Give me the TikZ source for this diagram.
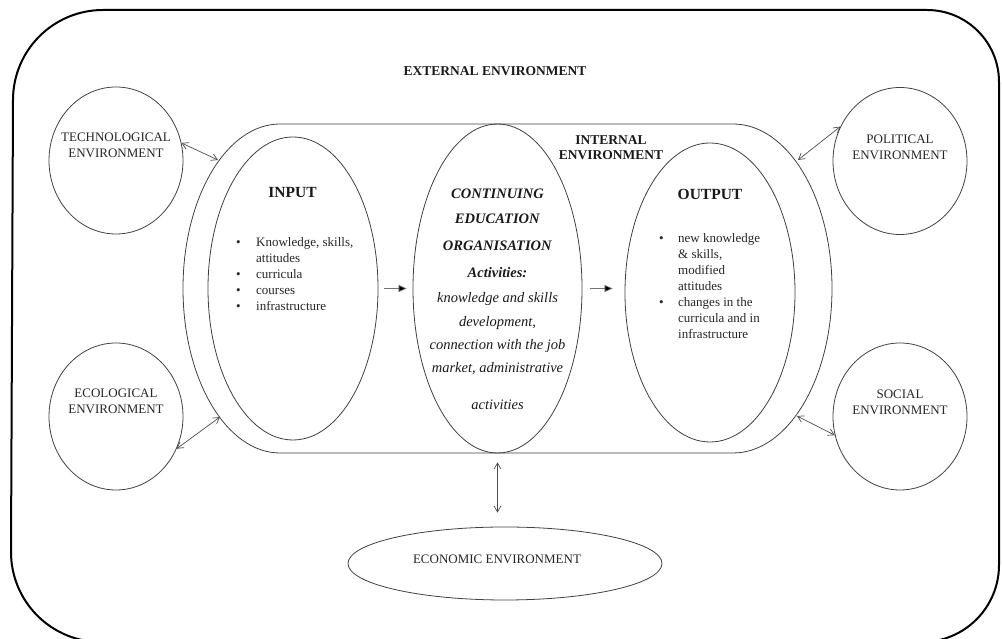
\documentclass[tikz,border=0pt]{standalone}
\usepackage{fontspec}
\setmainfont{Liberation Serif}
\usetikzlibrary{shapes.geometric,arrows.meta}
\begin{document}
\begin{tikzpicture}[x=1pt,y=1pt,
  ell/.style={draw=black!75, line width=0.8pt, ellipse, inner sep=0pt},
  lbl/.style={font=\fontsize{13}{16}\selectfont, align=center, inner sep=0pt, text=black!85},
  boldlbl/.style={font=\fontsize{13.5}{15.5}\selectfont\bfseries, align=center, inner sep=0pt, text=black!90},
  head/.style={font=\fontsize{15.5}{18}\selectfont\bfseries, inner sep=0pt, text=black!90},
  listtxt/.style={anchor=north west, inner sep=0pt, font=\fontsize{13}{16}\selectfont, text=black!85},
  dbl/.style={draw=black!70, line width=0.7pt, {Straight Barb[length=6pt,width=7pt]}-{Straight Barb[length=6pt,width=7pt]}},
  fwd/.style={draw=black!55, line width=0.7pt, -{Triangle[length=8pt,width=7pt,fill=black]}}
]
\useasboundingbox (0,0) rectangle (1002,639);
\begin{scope}
\clip (0,0) rectangle (1002,639);
\draw[line width=2pt] (13,539) arc[start angle=180,end angle=90,radius=90] -- (927,629)
  arc[start angle=90,end angle=0,radius=72] -- (999,74)
  arc[start angle=0,end angle=-90,radius=77] -- (101,-3)
  arc[start angle=270,end angle=180,radius=90] -- cycle;
\end{scope}
% internal environment
\draw[draw=black!75,line width=0.8pt] (280,515) -- (733,515)
  arc[start angle=90,end angle=-90,x radius=99,y radius=164.5] -- (280,186)
  arc[start angle=270,end angle=90,x radius=97,y radius=164.5] -- cycle;
\coordinate (t1) at (218,479);
\coordinate (e1) at (220,222);
\coordinate (p1) at (798,479);
\coordinate (s1) at (797,223);
% ellipses
\node[ell, minimum width=134pt, minimum height=147pt] (tech) at (116,478.5) {};
\node[ell, minimum width=134pt, minimum height=147pt] (eco) at (116,222.5) {};
\node[ell, minimum width=134pt, minimum height=147pt] (pol) at (900,478) {};
\node[ell, minimum width=134pt, minimum height=147pt] (soc) at (900,222.5) {};
\node[ell, minimum width=314pt, minimum height=73pt] (econ) at (505,75.5) {};
\node[ell, minimum width=170pt, minimum height=303pt] (input) at (293,350.5) {};
\node[ell, minimum width=169pt, minimum height=329pt] (ceo) at (497.5,350.5) {};
\node[ell, minimum width=170pt, minimum height=299pt] (output) at (710,346.5) {};
% labels
\node[lbl] (techl) at (116,493.5) {TECHNOLOGICAL\\ENVIRONMENT};
\node[lbl] (ecol) at (116,237.5) {ECOLOGICAL\\ENVIRONMENT};
\node[lbl] (poll) at (900,491.5) {POLITICAL\\ENVIRONMENT};
\node[lbl] (socl) at (900,236.5) {SOCIAL\\ENVIRONMENT};
\node[lbl] (econl) at (497,80) {ECONOMIC ENVIRONMENT};
\node[boldlbl] (ext) at (495,568) {EXTERNAL ENVIRONMENT};
\node[boldlbl] (int) at (611,491.5) {INTERNAL\\ENVIRONMENT};
\node[head] (inh) at (292.5,446) {INPUT};
\node[head] (outh) at (710,445) {OUTPUT};
\node[listtxt] (inl) at (236,404) {\begin{tabular}{@{}p{20pt}@{}l@{}}
\textbullet & Knowledge, skills,\\
 & attitudes\\
\textbullet & curricula\\
\textbullet & courses\\
\textbullet & infrastructure
\end{tabular}};
\node[listtxt] (outl) at (659,408) {\begin{tabular}{@{}p{19pt}@{}l@{}}
\textbullet & new knowledge\\
 & \& skills,\\
 & modified\\
 & attitudes\\
\textbullet & changes in the\\
 & curricula and in\\
 & infrastructure
\end{tabular}};
\node[anchor=north, inner sep=0pt, align=center, text=black!90, font=\fontsize{14.5}{23}\selectfont] (ceot) at (497.5,450) {%
\textbf{\textit{CONTINUING}}\\[2pt]
\textbf{\textit{EDUCATION}}\\[4pt]
\textbf{\textit{ORGANISATION}}\\[4pt]
\textbf{\textit{Activities:}}\\[2pt]
\textit{knowledge and skills}\\[1pt]
\textit{development,}\\
\textit{connection with the job}\\
\textit{market, administrative}\\[14pt]
\textit{activities}};
% connectors
\draw[dbl] (tech.15) -- (t1);
\draw[dbl] (eco.-28) -- (e1);
\draw[dbl] (pol.150) -- (p1);
\draw[dbl] (soc.196) -- (s1);
\draw[dbl, shorten <=14pt, shorten >=9pt] (ceo.south |- econ.north) -- (ceo.south);
\draw[fwd, shorten <=6pt, shorten >=6pt] (input.east) -- (ceo.west);
\draw[fwd, shorten <=8pt, shorten >=12pt] (ceo.east) -- (ceo.east -| output.west);
\end{tikzpicture}
\end{document}
